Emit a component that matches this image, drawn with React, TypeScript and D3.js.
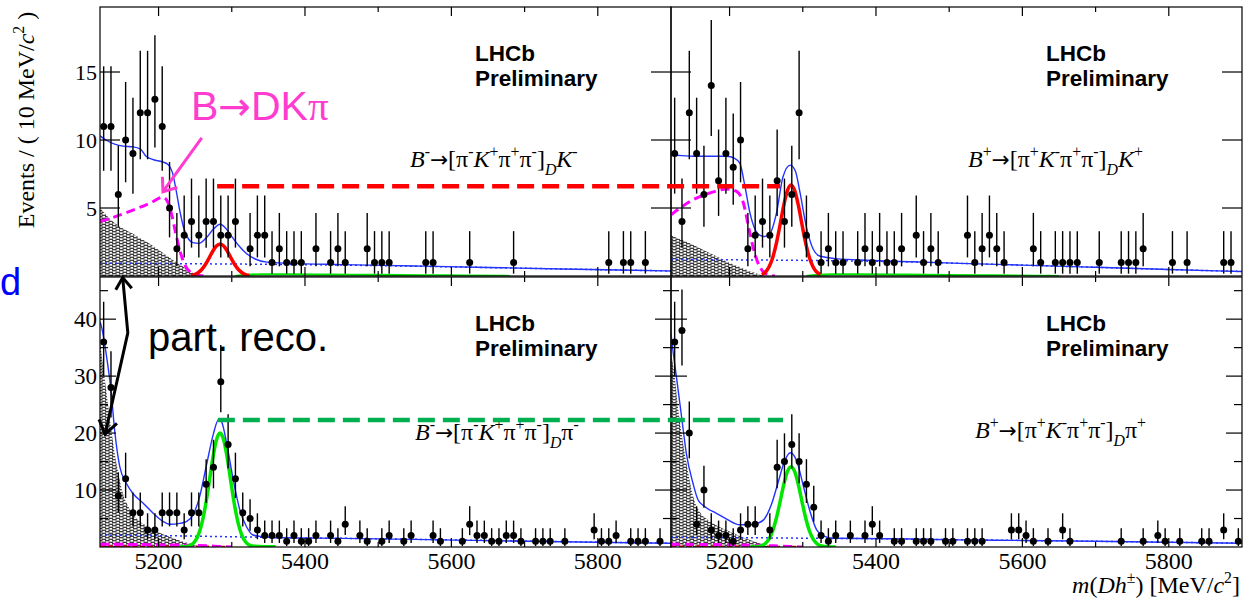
import React from "react";
import * as d3 from "d3";

type Pt = [number, number];
type Seg = { t: string; it?: boolean; sh?: "sup" | "sub"; fam?: string; scale?: number };

// ---------------------------------------------------------------------------
// Binning of the invariant-mass spectra (10 MeV/c^2 bins)
// ---------------------------------------------------------------------------
const MASS_LO = 5120;
const MASS_HI = 5900;
const BIN_WIDTH = 10;
const binCentres = d3.range((MASS_HI - MASS_LO) / BIN_WIDTH).map((i) => MASS_LO + BIN_WIDTH * (i + 0.5));

const xTickValues = [5200, 5300, 5400, 5500, 5600, 5700, 5800];
const xTickLabels = [5200, 5400, 5600, 5800];
const yTicksTop = [5, 10, 15];
const yTicksBottom = [5, 10, 15, 20, 25, 30, 35, 40, 45];
const yLabelsBottom = [10, 20, 30, 40];

// ---------------------------------------------------------------------------
// Event counts per bin
// ---------------------------------------------------------------------------
const countsDKminus = [
  11, 11, 6, 10, 9, 12, 12, 13, 11, 5,
  2, 3, 4, 3, 4, 4, 3, 3, 4, 0,
  2, 3, 3, 1, 2, 1, 1, 1, 0, 2,
  0, 1, 2, 1, 0, 0, 2, 1, 1, 1,
  0, 0, 0, 0, 1, 1, 0, 0, 0, 0,
  1, 0, 0, 0, 0, 0, 1, 0, 0, 0,
  0, 0, 0, 0, 0, 0, 0, 0, 0, 1,
  0, 1, 1, 0, 1, 0, 0, 0,
];
const countsDKplus = [
  9, 4, 12, 9, 6, 14, 7, 9, 8, 10,
  2, 3, 4, 3, 7, 4, 6, 12, 3, 0,
  1, 2, 1, 1, 0, 1, 2, 1, 2, 1,
  1, 2, 0, 3, 1, 2, 1, 0, 0, 0,
  3, 1, 2, 3, 2, 1, 0, 0, 0, 2,
  1, 0, 1, 1, 1, 1, 0, 0, 1, 0,
  0, 1, 1, 1, 2, 0, 0, 0, 1, 0,
  1, 0, 0, 0, 0, 1, 1, 0,
];
const countsDPiMinus = [
  36, 28, 9, 12, 6, 6, 3, 3, 6, 6,
  6, 3, 6, 6, 11, 14, 29, 18, 12, 6,
  5, 3, 2, 2, 2, 1, 2, 1, 1, 2,
  0, 2, 1, 4, 0, 2, 1, 0, 1, 2,
  0, 1, 2, 0, 0, 2, 1, 0, 0, 1,
  4, 2, 2, 1, 1, 2, 2, 1, 0, 1,
  1, 1, 0, 1, 0, 0, 0, 3, 1, 1,
  2, 0, 1, 1, 1, 0, 1, 0,
];
const countsDPiPlus = [
  36, 38, 20, 4, 10, 3, 2, 2, 1, 3,
  4, 4, 0, 3, 14, 15, 18, 15, 11, 7,
  2, 1, 2, 0, 2, 0, 2, 4, 2, 0,
  1, 1, 0, 1, 1, 1, 0, 1, 1, 0,
  1, 1, 1, 0, 0, 0, 3, 3, 2, 1,
  0, 1, 0, 3, 1, 0, 0, 0, 0, 0,
  0, 1, 0, 0, 1, 0, 2, 1, 0, 1,
  0, 0, 1, 1, 0, 3, 0, 1,
];

// ---------------------------------------------------------------------------
// Fit components, (mass, events per bin)
// ---------------------------------------------------------------------------
// B- -> D K-
const totalDKminus: Pt[] = [
  [5120, 10.3], [5128, 10.0], [5140, 9.7], [5152, 9.55], [5165, 9.5], [5175, 9.35], [5183, 8.8],
  [5193, 8.55], [5205, 8.4], [5213, 8.2], [5219, 7.6], [5224, 6.3], [5229, 4.8], [5234, 3.6],
  [5240, 2.8], [5247, 2.45], [5255, 2.4], [5265, 2.8], [5275, 3.45], [5284, 3.8], [5292, 3.5],
  [5300, 2.9], [5310, 2.2], [5320, 1.65], [5332, 1.25], [5348, 1.02], [5380, 0.93], [5450, 0.84],
  [5550, 0.74], [5650, 0.63], [5750, 0.52], [5850, 0.42], [5900, 0.37],
];
const combDKminus: Pt[] = [
  [5120, 0.95], [5250, 0.9], [5350, 0.86], [5450, 0.8], [5550, 0.72], [5650, 0.62], [5750, 0.52],
  [5850, 0.42], [5900, 0.37],
];
const partRecoDKminus: Pt[] = [
  [5120, 5.0], [5125, 4.7], [5130, 4.4], [5140, 3.9], [5150, 3.55], [5170, 2.95], [5190, 2.3],
  [5210, 1.55], [5230, 0.8], [5245, 0.3], [5255, 0.05], [5260, 0],
];
const dkpiDKminus: Pt[] = [
  [5120, 4.0], [5140, 4.35], [5165, 4.85], [5190, 5.4], [5206, 5.8], [5212, 5.5], [5218, 4.5],
  [5224, 3.0], [5230, 1.7], [5236, 0.8], [5243, 0.3], [5252, 0.08], [5262, 0],
];
const signalDKminus: Pt[] = [
  [5244, 0.04], [5249, 0.1], [5254, 0.24], [5259, 0.48], [5264, 0.85], [5269, 1.32], [5274, 1.82],
  [5279, 2.2], [5284, 2.35], [5289, 2.2], [5294, 1.82], [5299, 1.32], [5304, 0.85], [5309, 0.48],
  [5314, 0.24], [5319, 0.1], [5324, 0.04],
];
const crossFeedDKminus: Pt[] = [
  [5305, 0], [5320, 0.08], [5340, 0.12], [5380, 0.12], [5440, 0.1], [5500, 0.08], [5560, 0.05],
  [5620, 0.03], [5680, 0],
];

// B+ -> D K+
const totalDKplus: Pt[] = [
  [5120, 8.9], [5135, 8.85], [5150, 8.8], [5173, 8.8], [5196, 8.8], [5207, 8.65], [5214, 8.3],
  [5221, 6.6], [5228, 4.6], [5235, 3.4], [5241, 3.0], [5248, 2.9], [5255, 3.1], [5264, 4.6],
  [5273, 7.3], [5283, 8.15], [5290, 7.7], [5296, 6.2], [5305, 3.6], [5314, 2.0], [5323, 1.47],
  [5342, 1.3], [5378, 1.18], [5450, 1.05], [5515, 0.93], [5600, 0.8], [5700, 0.64], [5800, 0.48],
  [5900, 0.33],
];
const combDKplus: Pt[] = [
  [5120, 1.22], [5250, 1.17], [5380, 1.1], [5450, 1.03], [5515, 0.93], [5600, 0.8], [5700, 0.64],
  [5800, 0.48], [5900, 0.33],
];
const partRecoDKplus: Pt[] = [
  [5120, 3.0], [5135, 2.65], [5150, 2.3], [5165, 1.9], [5180, 1.5], [5195, 1.1], [5210, 0.75],
  [5225, 0.42], [5237, 0.18], [5247, 0],
];
const dkpiDKplus: Pt[] = [
  [5120, 4.5], [5135, 5.1], [5150, 5.6], [5173, 6.1], [5196, 6.4], [5210, 6.2], [5219, 5.35],
  [5226, 3.6], [5232, 2.15], [5239, 0.93], [5246, 0.32], [5255, 0.05], [5262, 0],
];
const signalDKplus: Pt[] = [
  [5244, 0.11], [5249, 0.29], [5254, 0.68], [5259, 1.36], [5264, 2.42], [5269, 3.77], [5274, 5.19],
  [5279, 6.28], [5284, 6.7], [5289, 6.28], [5294, 5.19], [5299, 3.77], [5304, 2.42], [5309, 1.36],
  [5314, 0.68], [5319, 0.29], [5324, 0.11],
];
const crossFeedDKplus: Pt[] = [
  [5305, 0], [5320, 0.08], [5340, 0.12], [5380, 0.12], [5440, 0.1], [5500, 0.07], [5560, 0.05],
  [5620, 0.02], [5650, 0],
];

// B- -> D pi-
const totalDPiMinus: Pt[] = [
  [5120, 39.5], [5122, 38.7], [5129, 33.4], [5135, 27.5], [5140, 20.5], [5147, 14.1], [5156, 11.2],
  [5165, 9.4], [5179, 7.7], [5193, 5.9], [5206, 4.5], [5215, 4.0], [5229, 4.15], [5238, 4.45],
  [5247, 5.6], [5256, 8.8], [5265, 14.1], [5275, 19.9], [5282, 22.4], [5286, 22.0], [5293, 18.2],
  [5302, 11.8], [5311, 6.5], [5320, 3.6], [5329, 2.1], [5343, 1.8], [5370, 1.62], [5450, 1.52],
  [5550, 1.33], [5650, 1.12], [5750, 0.92], [5900, 0.65],
];
const combDPiMinus: Pt[] = [
  [5120, 2.1], [5200, 2.0], [5300, 1.8], [5400, 1.6], [5500, 1.45], [5600, 1.25], [5700, 1.05],
  [5800, 0.85], [5900, 0.65],
];
const partRecoDPiMinus: Pt[] = [
  [5120, 36], [5125, 31], [5130, 26], [5135, 21], [5140, 16.5], [5145, 13], [5150, 10], [5160, 6.8],
  [5170, 5.0], [5185, 3.6], [5200, 2.6], [5215, 1.8], [5230, 1.1], [5245, 0.5], [5255, 0.1], [5260, 0],
];
const dkpiDPiMinus: Pt[] = [
  [5120, 0.5], [5160, 0.45], [5200, 0.38], [5240, 0.3], [5270, 0.18], [5290, 0.05], [5300, 0],
];
const signalDPiMinus: Pt[] = [
  [5228, 0.03], [5236, 0.06], [5244, 0.34], [5249, 0.88], [5254, 2.02], [5259, 4.06], [5264, 7.22],
  [5269, 11.26], [5274, 15.5], [5279, 18.76], [5284, 20], [5289, 18.76], [5294, 15.5], [5299, 11.26],
  [5304, 7.22], [5309, 4.06], [5314, 2.02], [5319, 0.88], [5324, 0.34], [5332, 0.12], [5345, 0.05],
  [5360, 0.03],
];
const crossFeedDPiMinus: Pt[] = [
  [5120, 0.15], [5200, 0.13], [5260, 0.12], [5290, 0.08], [5300, 0],
];

// B+ -> D pi+
const totalDPiPlus: Pt[] = [
  [5120, 37.5], [5121, 36.3], [5128, 29.3], [5135, 22.3], [5141, 16.4], [5150, 11.2], [5157, 8.25],
  [5166, 7.1], [5182, 5.9], [5196, 4.9], [5214, 3.9], [5228, 3.9], [5239, 4.2], [5248, 5.0],
  [5257, 7.4], [5266, 11.2], [5275, 15.0], [5283, 16.55], [5292, 15.0], [5301, 10.6], [5310, 6.2],
  [5319, 3.0], [5328, 1.95], [5342, 1.53], [5378, 1.5], [5450, 1.4], [5515, 1.25], [5600, 1.15],
  [5700, 1.0], [5800, 0.83], [5900, 0.66],
];
const combDPiPlus: Pt[] = [
  [5120, 1.7], [5200, 1.65], [5300, 1.55], [5400, 1.45], [5500, 1.3], [5600, 1.15], [5700, 1.0],
  [5800, 0.83], [5900, 0.66],
];
const partRecoDPiPlus: Pt[] = [
  [5120, 34], [5125, 30], [5130, 24], [5135, 19.5], [5140, 15.5], [5145, 12], [5150, 9.0], [5160, 6.0],
  [5170, 4.8], [5185, 3.6], [5200, 2.7], [5220, 1.6], [5240, 0.7], [5250, 0.2], [5255, 0],
];
const dkpiDPiPlus: Pt[] = [
  [5120, 0.5], [5160, 0.45], [5200, 0.4], [5240, 0.3], [5270, 0.15], [5290, 0.05], [5300, 0],
];
const signalDPiPlus: Pt[] = [
  [5228, 0.02], [5236, 0.04], [5244, 0.24], [5249, 0.62], [5254, 1.42], [5259, 2.86], [5264, 5.09],
  [5269, 7.94], [5274, 10.93], [5279, 13.23], [5284, 14.1], [5289, 13.23], [5294, 10.93], [5299, 7.94],
  [5304, 5.09], [5309, 2.86], [5314, 1.42], [5319, 0.62], [5324, 0.24], [5332, 0.06], [5345, 0.02],
];
const crossFeedDPiPlus: Pt[] = [
  [5120, 0.12], [5200, 0.12], [5260, 0.1], [5290, 0.06], [5300, 0],
];

// ---------------------------------------------------------------------------
// Text
// ---------------------------------------------------------------------------
const ARROW_FONT = "'DejaVu Sans', sans-serif";
const arrowSeg: Seg = { t: "\u2192", fam: ARROW_FONT, scale: 0.9 };

const labelDKminus: Seg[] = [
  { t: "B", it: true }, { t: "-", sh: "sup" }, arrowSeg, { t: "[" }, { t: "\u03c0" }, { t: "-", sh: "sup" },
  { t: "K", it: true }, { t: "+", sh: "sup" }, { t: "\u03c0" }, { t: "+", sh: "sup" }, { t: "\u03c0" },
  { t: "-", sh: "sup" }, { t: "]" }, { t: "D", it: true, sh: "sub" }, { t: "K", it: true }, { t: "-", sh: "sup" },
];
const labelDKplus: Seg[] = [
  { t: "B", it: true }, { t: "+", sh: "sup" }, arrowSeg, { t: "[" }, { t: "\u03c0" }, { t: "+", sh: "sup" },
  { t: "K", it: true }, { t: "-", sh: "sup" }, { t: "\u03c0" }, { t: "+", sh: "sup" }, { t: "\u03c0" },
  { t: "-", sh: "sup" }, { t: "]" }, { t: "D", it: true, sh: "sub" }, { t: "K", it: true }, { t: "+", sh: "sup" },
];
const labelDPiMinus: Seg[] = [
  { t: "B", it: true }, { t: "-", sh: "sup" }, arrowSeg, { t: "[" }, { t: "\u03c0" }, { t: "-", sh: "sup" },
  { t: "K", it: true }, { t: "+", sh: "sup" }, { t: "\u03c0" }, { t: "+", sh: "sup" }, { t: "\u03c0" },
  { t: "-", sh: "sup" }, { t: "]" }, { t: "D", it: true, sh: "sub" }, { t: "\u03c0" }, { t: "-", sh: "sup" },
];
const labelDPiPlus: Seg[] = [
  { t: "B", it: true }, { t: "+", sh: "sup" }, arrowSeg, { t: "[" }, { t: "\u03c0" }, { t: "+", sh: "sup" },
  { t: "K", it: true }, { t: "-", sh: "sup" }, { t: "\u03c0" }, { t: "+", sh: "sup" }, { t: "\u03c0" },
  { t: "-", sh: "sup" }, { t: "]" }, { t: "D", it: true, sh: "sub" }, { t: "\u03c0" }, { t: "+", sh: "sup" },
];
const yTitle: Seg[] = [{ t: "Events / ( 10 MeV/" }, { t: "c", it: true }, { t: "2", sh: "sup" }, { t: " )" }];
const xTitle: Seg[] = [
  { t: "m", it: true }, { t: "(" }, { t: "D", it: true }, { t: "h", it: true }, { t: "\u00b1", sh: "sup" },
  { t: ") [MeV/" }, { t: "c", it: true }, { t: "2", sh: "sup" }, { t: "]" },
];
const dkpiNote: Seg[] = [{ t: "B" }, { t: "\u2192", fam: ARROW_FONT, scale: 0.95 }, { t: "DK" }, { t: "\u03c0", fam: "'Liberation Serif', serif" }];

// ---------------------------------------------------------------------------
// Layout and style
// ---------------------------------------------------------------------------
const W = 1249;
const H = 600;
const SERIF = "'Liberation Serif', 'Times New Roman', serif";
const SANS = "'Liberation Sans', Arial, sans-serif";
const COLS: [number, number][] = [[100, 671], [671, 1242]];
const ROWS = [
  { top: 7, bottom: 276, yMax: 19.78 },
  { top: 277, bottom: 547, yMax: 47.4 },
];
const BLUE = "#2233ff";
const MAGENTA = "#ff00ff";
const RED = "#ff0000";
const LIME = "#00e600";
const NOTE_PINK = "#ff3ccf";
const NOTE_GREEN = "#00b050";

type PanelSpec = {
  id: string;
  col: number;
  row: number;
  counts: number[];
  total: Pt[];
  comb: Pt[];
  partReco: Pt[];
  dkpi: Pt[];
  signal: Pt[];
  crossFeed: Pt[];
  signalColour: string;
  crossColour: string;
  crossDash: string;
  label: Seg[];
  labelX: number;
  labelY: number;
};

const panels: PanelSpec[] = [
  {
    id: "dkm", col: 0, row: 0, counts: countsDKminus, total: totalDKminus, comb: combDKminus,
    partReco: partRecoDKminus, dkpi: dkpiDKminus, signal: signalDKminus, crossFeed: crossFeedDKminus,
    signalColour: RED, crossColour: LIME, crossDash: "none", label: labelDKminus, labelX: 410, labelY: 167,
  },
  {
    id: "dkp", col: 1, row: 0, counts: countsDKplus, total: totalDKplus, comb: combDKplus,
    partReco: partRecoDKplus, dkpi: dkpiDKplus, signal: signalDKplus, crossFeed: crossFeedDKplus,
    signalColour: RED, crossColour: LIME, crossDash: "none", label: labelDKplus, labelX: 968, labelY: 167,
  },
  {
    id: "dpim", col: 0, row: 1, counts: countsDPiMinus, total: totalDPiMinus, comb: combDPiMinus,
    partReco: partRecoDPiMinus, dkpi: dkpiDPiMinus, signal: signalDPiMinus, crossFeed: crossFeedDPiMinus,
    signalColour: LIME, crossColour: RED, crossDash: "5 3", label: labelDPiMinus, labelX: 415, labelY: 440,
  },
  {
    id: "dpip", col: 1, row: 1, counts: countsDPiPlus, total: totalDPiPlus, comb: combDPiPlus,
    partReco: partRecoDPiPlus, dkpi: dkpiDPiPlus, signal: signalDPiPlus, crossFeed: crossFeedDPiPlus,
    signalColour: LIME, crossColour: RED, crossDash: "5 3", label: labelDPiPlus, labelX: 975, labelY: 438,
  },
];

function scalesFor(col: number, row: number) {
  const [x0, x1] = COLS[col];
  const r = ROWS[row];
  const x = d3.scaleLinear().domain([MASS_LO, MASS_HI]).range([x0, x1]);
  const y = d3.scaleLinear().domain([0, r.yMax]).range([r.bottom, r.top]);
  return { x, y };
}

// Central 68% Poisson interval for an observed count
function poissonCdf(n: number, mu: number) {
  let term = Math.exp(-mu);
  let sum = term;
  for (let k = 1; k <= n; k++) {
    term *= mu / k;
    sum += term;
  }
  return sum;
}
function bisect(f: (mu: number) => number, target: number, lo: number, hi: number) {
  for (let i = 0; i < 60; i++) {
    const mid = (lo + hi) / 2;
    if (f(mid) > target) lo = mid;
    else hi = mid;
  }
  return (lo + hi) / 2;
}
function poissonInterval(n: number): [number, number] {
  const a = 0.158655;
  const hi = bisect((mu) => poissonCdf(n, mu), a, 0, n + 20);
  const lo = n === 0 ? 0 : bisect((mu) => poissonCdf(n - 1, mu), 1 - a, 0, n + 20);
  return [lo, hi];
}

function RichText(props: {
  x: number; y: number; size: number; segs: Seg[]; anchor?: string; family?: string;
  fill?: string; transform?: string;
}) {
  const { x, y, size, segs, anchor = "start", family = SERIF, fill = "#000", transform } = props;
  let shift = 0;
  return (
    <text x={x} y={y} fontSize={size} fontFamily={family} fill={fill} textAnchor={anchor}
      transform={transform} style={{ whiteSpace: "pre" }}>
      {segs.map((s, i) => {
        const target = s.sh === "sup" ? -0.42 * size : s.sh === "sub" ? 0.32 * size : 0;
        const dy = target - shift;
        shift = target;
        const fs = s.sh ? size * 0.66 : size * (s.scale ?? 1);
        return (
          <tspan key={i} dy={dy} fontStyle={s.it ? "italic" : "normal"} fontSize={fs} fontFamily={s.fam}>
            {s.t}
          </tspan>
        );
      })}
    </text>
  );
}

function arrowHead(tip: Pt, from: Pt, len: number, halfAngleDeg: number) {
  const ang = Math.atan2(from[1] - tip[1], from[0] - tip[0]);
  const h = (halfAngleDeg * Math.PI) / 180;
  const a1: Pt = [tip[0] + len * Math.cos(ang + h), tip[1] + len * Math.sin(ang + h)];
  const a2: Pt = [tip[0] + len * Math.cos(ang - h), tip[1] + len * Math.sin(ang - h)];
  return `M${a1[0]},${a1[1]}L${tip[0]},${tip[1]}L${a2[0]},${a2[1]}`;
}

function Panel({ spec }: { spec: PanelSpec }) {
  const { x, y } = scalesFor(spec.col, spec.row);
  const [x0, x1] = x.range();
  const [yb, yt] = y.range();
  const line = d3.line<Pt>().x((d) => x(d[0])).y((d) => y(d[1])).curve(d3.curveMonotoneX);
  const area = d3.area<Pt>().x((d) => x(d[0])).y0(y(0)).y1((d) => y(d[1])).curve(d3.curveMonotoneX);
  const clip = `clip-${spec.id}`;
  const isTop = spec.row === 0;
  const yTicks = isTop ? yTicksTop : yTicksBottom;
  const yTickLen = (v: number) => (isTop ? 20 : v % 10 === 0 ? 16 : 8);

  const points = spec.counts
    .map((n, i) => ({ m: binCentres[i], n }))
    .filter((d) => d.n > 0)
    .map((d) => ({ ...d, err: poissonInterval(d.n) }));

  return (
    <g>
      <defs>
        <clipPath id={clip}>
          <rect x={x0} y={yt} width={x1 - x0} height={yb - yt} />
        </clipPath>
      </defs>
      <g clipPath={`url(#${clip})`}>
        <path d={area(spec.partReco) ?? ""} fill="url(#hatch)" stroke="none" />
        <path d={line(spec.comb) ?? ""} fill="none" stroke={BLUE} strokeWidth={1.5} strokeDasharray="2 3" />
        <path d={line(spec.crossFeed) ?? ""} fill="none" stroke={spec.crossColour}
          strokeWidth={isTop ? 2.2 : 1.6} strokeDasharray={spec.crossDash} />
        <path d={line(spec.dkpi) ?? ""} fill="none" stroke={MAGENTA} strokeWidth={3} strokeDasharray="9 5" />
        <path d={line(spec.signal) ?? ""} fill="none" stroke={spec.signalColour} strokeWidth={3.5} />
        <path d={line(spec.total) ?? ""} fill="none" stroke={BLUE} strokeWidth={1.4} />
        {points.map((p) => (
          <g key={p.m}>
            <line x1={x(p.m)} x2={x(p.m)} y1={y(p.err[0])} y2={y(p.err[1])} stroke="#000" strokeWidth={1.4} />
            <circle cx={x(p.m)} cy={y(p.n)} r={3.5} fill="#000" />
          </g>
        ))}
      </g>

      {/* frame and ticks */}
      <rect x={x0} y={yt} width={x1 - x0} height={yb - yt} fill="none" stroke="#000" strokeWidth={1.2} />
      {xTickValues.map((t) => {
        const len = t % 200 === 0 ? 9 : 5;
        return (
          <g key={`xt${t}`} stroke="#000" strokeWidth={1.2}>
            <line x1={x(t)} x2={x(t)} y1={yb} y2={yb - len} />
            <line x1={x(t)} x2={x(t)} y1={yt} y2={yt + len} />
          </g>
        );
      })}
      {yTicks.map((t) => (
        <g key={`yt${t}`} stroke="#000" strokeWidth={1.2}>
          <line x1={x0} x2={x0 + yTickLen(t)} y1={y(t)} y2={y(t)} />
          <line x1={x1} x2={x1 - yTickLen(t)} y1={y(t)} y2={y(t)} />
        </g>
      ))}

      {/* tick labels */}
      {spec.col === 0 &&
        (isTop ? yTicksTop : yLabelsBottom).map((t) => (
          <text key={`yl${t}`} x={97} y={y(t) + (isTop ? 7.5 : 8)} fontSize={isTop ? 22 : 23}
            fontFamily={SERIF} textAnchor="end">
            {t}
          </text>
        ))}
      {!isTop &&
        xTickLabels.map((t) => (
          <text key={`xl${t}`} x={x(t)} y={569} fontSize={24} fontFamily={SERIF} textAnchor="middle">
            {t}
          </text>
        ))}

      {/* experiment tag and decay mode */}
      <text x={x0 + 375} y={yt + 54} fontSize={22.5} fontWeight="bold" fontFamily={SANS}>LHCb</text>
      <text x={x0 + 375} y={yt + 79} fontSize={22.5} fontWeight="bold" fontFamily={SANS}>Preliminary</text>
      <RichText x={spec.labelX} y={spec.labelY} size={24} segs={spec.label} />
    </g>
  );
}

export default function App() {
  const tl = scalesFor(0, 0);
  const tr = scalesFor(1, 0);
  const bl = scalesFor(0, 1);
  const br = scalesFor(1, 1);

  // Reference-height guides comparing the two charges
  const redGuide = { from: tl.x(5280), to: tr.x(5269), y: tl.y(6.6) };
  const greenGuide = { from: bl.x(5281), to: br.x(5273), y: bl.y(22.3) };

  // Annotation arrows
  const pinkFrom: Pt = [tl.x(5259), tl.y(10.15)];
  const pinkTip: Pt = [tl.x(5206), tl.y(6.2)];
  const prJoint: Pt = [bl.x(5158), bl.y(37.6)];
  const prTipUp: Pt = [bl.x(5151), bl.y(47.3)];
  const prTipDown: Pt = [bl.x(5127), bl.y(19.8)];

  return (
    <svg width={W} height={H} viewBox={`0 0 ${W} ${H}`}
      style={{ position: "absolute", left: 0, top: 0, background: "#fff" }}>
      <defs>
        <pattern id="hatch" width={7} height={3} patternUnits="userSpaceOnUse">
          <path d="M0,0.8H4.6M3.5,2.3H8.1M-3.5,2.3H1.1" stroke="#000" strokeWidth={1.1} />
        </pattern>
      </defs>
      <rect width={W} height={H} fill="#fff" />

      {panels.map((p) => (
        <Panel key={p.id} spec={p} />
      ))}

      {/* axis titles */}
      <RichText x={0} y={0} size={24} segs={yTitle} anchor="middle" transform="translate(34,120) rotate(-90)" />
      <RichText x={1240} y={593} size={24} segs={xTitle} anchor="end" />

      {/* comparison guides */}
      <line x1={redGuide.from} x2={redGuide.to} y1={redGuide.y} y2={redGuide.y} stroke={RED}
        strokeWidth={4.5} strokeDasharray="17 8" />
      <line x1={greenGuide.from} x2={greenGuide.to} y1={greenGuide.y} y2={greenGuide.y} stroke={NOTE_GREEN}
        strokeWidth={4.5} strokeDasharray="17 8" />

      {/* B -> D K pi annotation */}
      <RichText x={191} y={120} size={41} segs={dkpiNote} family={SANS} fill={NOTE_PINK} />
      <line x1={pinkFrom[0]} y1={pinkFrom[1]} x2={pinkTip[0]} y2={pinkTip[1]} stroke={NOTE_PINK} strokeWidth={3} />
      <path d={arrowHead(pinkTip, pinkFrom, 15, 38)} fill="none" stroke={NOTE_PINK} strokeWidth={3} />

      {/* partially reconstructed background annotation */}
      <text x={148} y={351} fontSize={40} fontFamily={SANS} fill="#000">part. reco.</text>
      <path d={`M${prTipUp[0]},${prTipUp[1]}L${prJoint[0]},${prJoint[1]}L${prTipDown[0]},${prTipDown[1]}`}
        fill="none" stroke="#000" strokeWidth={3} />
      <path d={arrowHead(prTipUp, prJoint, 14, 35)} fill="none" stroke="#000" strokeWidth={3} />
      <path d={arrowHead(prTipDown, prJoint, 16, 35)} fill="none" stroke="#000" strokeWidth={3} />

      {/* side caption letter at the left margin */}
      <text x={0} y={295} fontSize={38} fontFamily={SANS} fill="#0000ff">d</text>
    </svg>
  );
}
